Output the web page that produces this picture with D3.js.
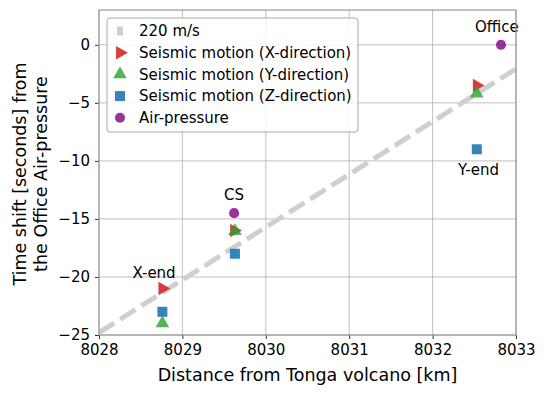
<!DOCTYPE html>
<html>
<head>
<meta charset="utf-8">
<script src="https://cdn.jsdelivr.net/npm/d3@7"></script>
<style>
  body { margin:0; background:#fff; }
  text { font-family:"DejaVu Sans", sans-serif; fill:#000; }
</style>
</head>
<body>
<svg id="chart" width="546" height="396"></svg>
<script>
/* station distances [km] and time shifts [s] */
const stations  = ["X-end", "CS", "Office", "Y-end"];
const seisX     = [{x:8028.76, y:-21.0}, {x:8029.62, y:-16.0}, {x:8032.53, y:-3.5}];
const seisY     = [{x:8028.76, y:-24.0}, {x:8029.63, y:-16.05}, {x:8032.53, y:-4.2}];
const seisZ     = [{x:8028.76, y:-23.0}, {x:8029.63, y:-18.0}, {x:8032.53, y:-9.0}];
const airP      = [{x:8029.62, y:-14.5}, {x:8032.82, y:0.0}];
const lineWave  = [{x:8028, y:-24.8}, {x:8033, y:-2.07}];
const labelPos  = [{t:"X-end", x:8028.66, y:-19.6}, {t:"CS", x:8029.62, y:-12.9},
                   {t:"Office", x:8032.77, y:1.6}, {t:"Y-end", x:8032.55, y:-10.8}];
const xTicks    = [8028, 8029, 8030, 8031, 8032, 8033];
const yTicks    = [0, -5, -10, -15, -20, -25];

const svg = d3.select("#chart");
const m = {l:99, r:516, t:10, b:335};

const x = d3.scaleLinear().domain([8028, 8033]).range([m.l, m.r]);
const y = d3.scaleLinear().domain([-25, 3]).range([m.b, m.t]);

/* grid */
const grid = svg.append("g").attr("stroke","#b0b0b0").attr("stroke-width",0.8);
xTicks.forEach(t => grid.append("line").attr("x1",x(t)).attr("x2",x(t)).attr("y1",m.t).attr("y2",m.b));
yTicks.forEach(t => grid.append("line").attr("x1",m.l).attr("x2",m.r).attr("y1",y(t)).attr("y2",y(t)));

/* axes */
const xa = svg.append("g").attr("transform",`translate(0,${m.b})`)
  .call(d3.axisBottom(x).tickValues(xTicks).tickFormat(d3.format("d")).tickSizeOuter(0).tickSize(4).tickPadding(5));
const ya = svg.append("g").attr("transform",`translate(${m.l},0)`)
  .call(d3.axisLeft(y).tickValues(yTicks).tickFormat(d => d < 0 ? "\u2212" + Math.abs(d) : d).tickSizeOuter(0).tickSize(4).tickPadding(5));
[xa, ya].forEach(a => {
  a.select(".domain").remove();
  a.selectAll("text").attr("font-family","DejaVu Sans").attr("font-size",15).attr("fill","#000");
  a.selectAll("line").attr("stroke","#000").attr("stroke-width",0.8);
});

/* 220 m/s line */
svg.append("path").datum(lineWave)
  .attr("d", d3.line().x(d=>x(d.x)).y(d=>y(d.y)))
  .attr("stroke","#cfcfcf").attr("stroke-width",5).attr("stroke-dasharray","18,7").attr("fill","none");

const pts = svg.append("g");

const tri  = d3.symbol().type(d3.symbolTriangle).size(80);
const sq   = d3.symbol().type(d3.symbolSquare).size(100);
const circ = d3.symbol().type(d3.symbolCircle).size(80);

pts.selectAll(".sx").data(seisX).enter().append("path")
  .attr("d", tri).attr("fill","#d62728").attr("fill-opacity",0.9)
  .attr("transform", d=>`translate(${x(d.x)},${y(d.y)}) rotate(90)`);
pts.selectAll(".sy").data(seisY).enter().append("path")
  .attr("d", tri).attr("fill","#2ca02c").attr("fill-opacity",0.8)
  .attr("transform", d=>`translate(${x(d.x)},${y(d.y)})`);
pts.selectAll(".sz").data(seisZ).enter().append("path")
  .attr("d", sq).attr("fill","#1f77b4").attr("fill-opacity",0.9)
  .attr("transform", d=>`translate(${x(d.x)},${y(d.y)})`);
pts.selectAll(".ap").data(airP).enter().append("path")
  .attr("d", circ).attr("fill","#800080").attr("fill-opacity",0.8)
  .attr("transform", d=>`translate(${x(d.x)},${y(d.y)})`);

/* station labels */
svg.selectAll(".lbl").data(labelPos).enter().append("text")
  .attr("x", d=>x(d.x)).attr("y", d=>y(d.y)).attr("text-anchor","middle")
  .attr("dy","0.35em").attr("font-size",15).text(d=>d.t);

/* frame */
svg.append("rect").attr("x",m.l).attr("y",m.t).attr("width",m.r-m.l).attr("height",m.b-m.t)
  .attr("fill","none").attr("stroke","#999").attr("stroke-width",1.2);

/* axis titles */
svg.append("text").attr("x",(m.l+m.r)/2).attr("y",381).attr("text-anchor","middle")
  .attr("font-size",17.5).text("Distance from Tonga volcano [km]");
const yl = svg.append("text").attr("transform","translate(0,174) rotate(-90)").attr("text-anchor","middle").attr("font-size",17.5);
yl.append("tspan").attr("x",0).attr("y",26).text("Time shift [seconds] from");
yl.append("tspan").attr("x",0).attr("y",47).text("the Office Air-pressure");

/* legend */
const legendNames = ["220 m/s", "Seismic motion (X-direction)", "Seismic motion (Y-direction)",
                     "Seismic motion (Z-direction)", "Air-pressure"];
const lg = svg.append("g");
lg.append("rect").attr("x",107).attr("y",18).attr("width",251).attr("height",114).attr("rx",3)
  .attr("fill","#fff").attr("fill-opacity",0.85).attr("stroke","#aaa").attr("stroke-width",1);
legendNames.forEach((name,i) => {
  const cy = 31 + i*21.7;
  if (i === 0) lg.append("rect").attr("x",117).attr("y",cy-4.5).attr("width",6).attr("height",9).attr("fill","#cfcfcf");
  if (i === 1) lg.append("path").attr("d",tri).attr("fill","#d62728").attr("fill-opacity",0.9).attr("transform",`translate(120,${cy}) rotate(90)`);
  if (i === 2) lg.append("path").attr("d",tri).attr("fill","#2ca02c").attr("fill-opacity",0.8).attr("transform",`translate(120,${cy})`);
  if (i === 3) lg.append("path").attr("d",sq).attr("fill","#1f77b4").attr("fill-opacity",0.9).attr("transform",`translate(120,${cy})`);
  if (i === 4) lg.append("path").attr("d",circ).attr("fill","#800080").attr("fill-opacity",0.8).attr("transform",`translate(120,${cy})`);
  lg.append("text").attr("x",139).attr("y",cy).attr("dy","0.35em").attr("font-size",15).text(name);
});
</script>
</body>
</html>
